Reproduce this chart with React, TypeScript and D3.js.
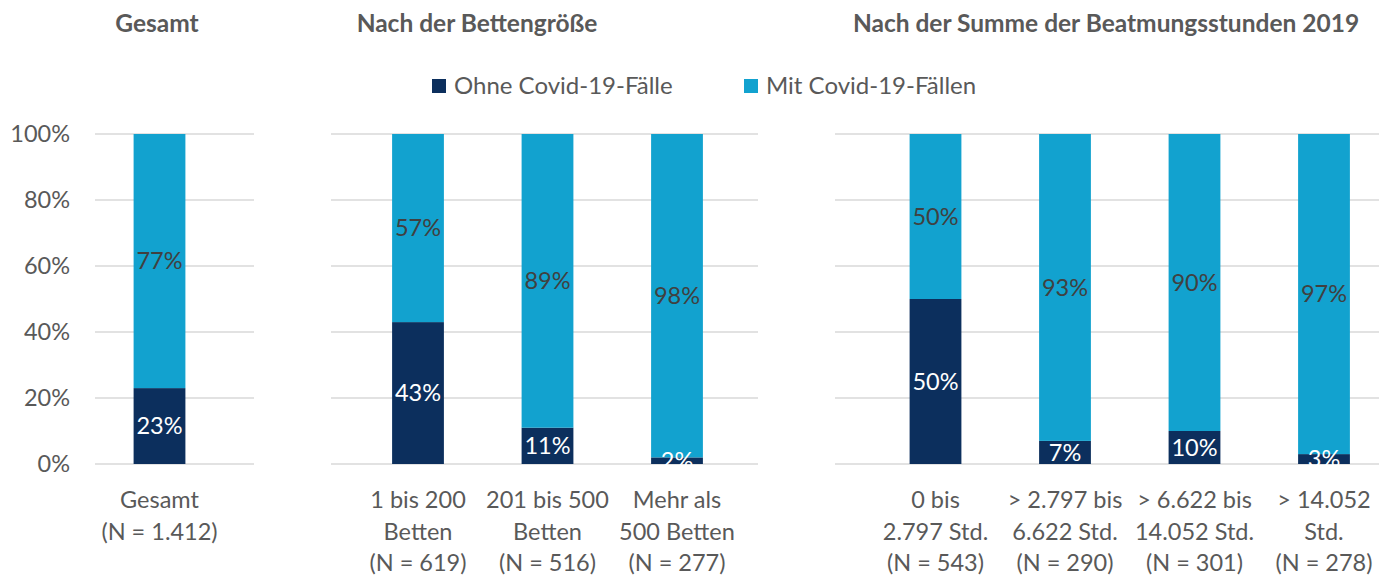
import React from 'react';
import * as d3 from 'd3';

// values in percent: [ohne, mit]
const panelTitles = ['Gesamt', 'Nach der Bettengröße', 'Nach der Summe der Beatmungsstunden 2019'];

const gesamtCats = [['Gesamt', '(N = 1.412)']];
const gesamtOhne = [23];
const gesamtMit = [77];

const bettenCats = [
  ['1 bis 200', 'Betten', '(N = 619)'],
  ['201 bis 500', 'Betten', '(N = 516)'],
  ['Mehr als', '500 Betten', '(N = 277)'],
];
const bettenOhne = [43, 11, 2];
const bettenMit = [57, 89, 98];

const beatmungCats = [
  ['0 bis', '2.797 Std.', '(N = 543)'],
  ['> 2.797 bis', '6.622 Std.', '(N = 290)'],
  ['> 6.622 bis', '14.052 Std.', '(N = 301)'],
  ['> 14.052', 'Std.', '(N = 278)'],
];
const beatmungOhne = [50, 7, 10, 3];
const beatmungMit = [50, 93, 90, 97];

const yTicks = [0, 20, 40, 60, 80, 100];
const seriesNames = ['Ohne Covid-19-Fälle', 'Mit Covid-19-Fällen'];

const DARK = '#0c2f5d';
const LIGHT = '#12a2cf';
const GRAY = '#595959';
const FONT = 'Lato, "Open Sans", sans-serif';
const FS = 23.5;

const W = 1379;
const H = 575;
const STEP = 129.5;

const panels = [
  { title: panelTitles[0], titleX: 157, cats: gesamtCats, ohne: gesamtOhne, mit: gesamtMit, firstCenter: 159.5, grid: [95, 254] },
  { title: panelTitles[1], titleX: 477, cats: bettenCats, ohne: bettenOhne, mit: bettenMit, firstCenter: 418, grid: [331, 758] },
  { title: panelTitles[2], titleX: 1106, cats: beatmungCats, ohne: beatmungOhne, mit: beatmungMit, firstCenter: 935.5, grid: [835, 1379] },
];

export default function App() {
  const y = d3.scaleLinear().domain([0, 100]).range([464, 134]);

  return (
    <svg width={W} height={H} style={{ position: 'absolute', left: 0, top: 0, background: '#fff' }} fontFamily={FONT}>
      {/* y axis labels */}
      {yTicks.map((t) => (
        <text key={t} x={70} y={y(t)} dy="0.35em" textAnchor="end" fontSize={FS} fill={GRAY}>
          {t}%
        </text>
      ))}

      {/* legend */}
      <rect x={432} y={79} width={14} height={14} fill={DARK} />
      <text x={454} y={86} dy="0.35em" fontSize={FS + 0.5} fill={GRAY}>{seriesNames[0]}</text>
      <rect x={744} y={79} width={14} height={14} fill={LIGHT} />
      <text x={766} y={86} dy="0.35em" fontSize={FS + 0.5} fill={GRAY}>{seriesNames[1]}</text>

      {panels.map((p, pi) => {
        const names = p.cats.map((c) => c.join(' '));
        const r0 = p.firstCenter - STEP / 2;
        const x = d3.scaleBand().domain(names).range([r0, r0 + names.length * STEP]).paddingInner(0.6).paddingOuter(0.3);
        const bw = x.bandwidth();
        return (
          <g key={pi}>
            <text x={p.titleX} y={23} dy="0.35em" textAnchor="middle" fontSize={24.5} fontWeight="bold" fill={GRAY}>
              {p.title}
            </text>
            {yTicks.map((t) => (
              <line key={t} x1={p.grid[0]} x2={p.grid[1]} y1={y(t)} y2={y(t)} stroke="#d9d9d9" strokeWidth={1.3} />
            ))}
            {names.map((n, i) => {
              const x0 = x(n) as number;
              const cx = x0 + bw / 2;
              const o = p.ohne[i];
              const m = p.mit[i];
              return (
                <g key={n}>
                  <rect x={x0} y={y(o)} width={bw} height={y(0) - y(o)} fill={DARK} />
                  <rect x={x0} y={y(o + m)} width={bw} height={y(o) - y(o + m)} fill={LIGHT} />
                  <text x={cx} y={y(o / 2)} dy="0.35em" textAnchor="middle" fontSize={FS} fill="#fff">{o}%</text>
                  <text x={cx} y={y(o + m / 2)} dy="0.35em" textAnchor="middle" fontSize={FS} fill="#404040">{m}%</text>
                  {p.cats[i].map((line, li) => (
                    <text key={li} x={cx} y={500 + li * 31.5} dy="0.35em" textAnchor="middle" fontSize={FS} fill={GRAY}>
                      {line}
                    </text>
                  ))}
                </g>
              );
            })}
          </g>
        );
      })}
    </svg>
  );
}
